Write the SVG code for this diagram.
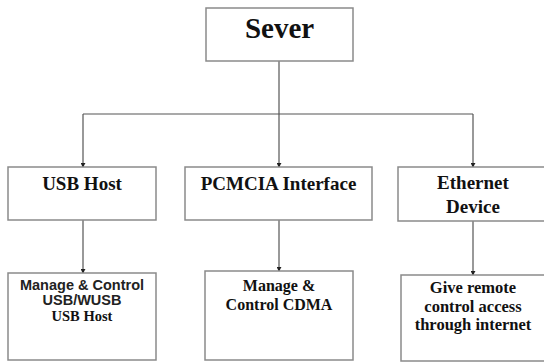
<svg xmlns="http://www.w3.org/2000/svg" width="544" height="362" viewBox="0 0 544 362">
<defs>
<style>
.box{fill:#fff;stroke:#8a8a8a;stroke-width:1.5}
.conn{fill:none;stroke:#555;stroke-width:1.2}
.serif{font-family:'Liberation Serif','Times New Roman','DejaVu Serif',serif;font-weight:700;fill:#111;text-anchor:middle}
.sans{font-family:'Liberation Sans',Arial,sans-serif;font-weight:700;fill:#222;text-anchor:middle}
</style>
<marker id="arr" viewBox="0 0 6 6" refX="5" refY="3" markerWidth="5" markerHeight="5" orient="auto" markerUnits="userSpaceOnUse">
<path d="M0,0 L6,3 L0,6 Z" fill="#222"/>
</marker>
</defs>
<rect width="544" height="362" fill="#fff"/>
<g id="connectors">
<path class="conn" d="M279,61 V114"/>
<path class="conn" d="M83,114 H473"/>
<path class="conn" d="M83,114 V167" marker-end="url(#arr)"/>
<path class="conn" d="M279,114 V167" marker-end="url(#arr)"/>
<path class="conn" d="M473,114 V167" marker-end="url(#arr)"/>
<path class="conn" d="M83,220 V273" marker-end="url(#arr)"/>
<path class="conn" d="M279,220 V271" marker-end="url(#arr)"/>
<path class="conn" d="M473,221 V275" marker-end="url(#arr)"/>
</g>
<g id="sever">
<rect class="box" x="206" y="8" width="147" height="53"/>
<text class="serif" x="279.5" y="38" font-size="29">Sever</text>
</g>
<g id="usbhost">
<rect class="box" x="8" y="167" width="148" height="53"/>
<text class="serif" x="82" y="190" font-size="19">USB Host</text>
</g>
<g id="pcmcia">
<rect class="box" x="185" y="167" width="187" height="53"/>
<text class="serif" x="278.5" y="190" font-size="19">PCMCIA Interface</text>
</g>
<g id="ethernet">
<rect class="box" x="398" y="167" width="150" height="54"/>
<text class="serif" x="473" y="189" font-size="19">Ethernet</text>
<text class="serif" x="473" y="212.5" font-size="19">Device</text>
</g>
<g id="usbmanage">
<rect class="box" x="8" y="273" width="148" height="87"/>
<text class="sans" x="82" y="289.5" font-size="14.5">Manage &amp; Control</text>
<text class="sans" x="82" y="304.5" font-size="14.5">USB/WUSB</text>
<text class="serif" x="82" y="320.5" font-size="14.5">USB Host</text>
</g>
<g id="cdma">
<rect class="box" x="205" y="271" width="148" height="89"/>
<text class="serif" x="279" y="290.5" font-size="16">Manage &amp;</text>
<text class="serif" x="279" y="310" font-size="16">Control CDMA</text>
</g>
<g id="remote">
<rect class="box" x="401" y="275" width="148" height="86"/>
<text class="serif" x="473" y="293" font-size="16.5">Give remote</text>
<text class="serif" x="473" y="311.5" font-size="16.5">control access</text>
<text class="serif" x="473" y="330" font-size="16.5">through internet</text>
</g>
</svg>
